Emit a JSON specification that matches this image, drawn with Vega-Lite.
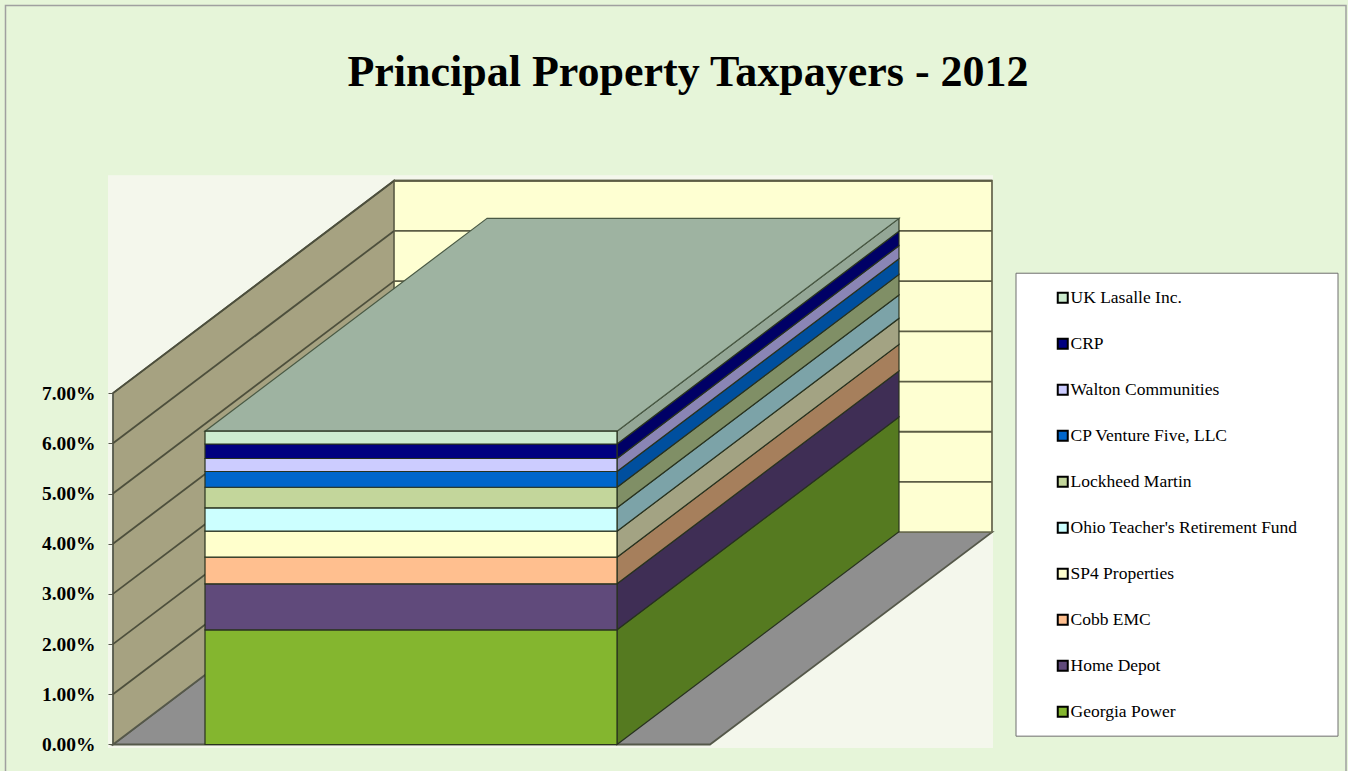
{
"$schema":"https://vega.github.io/schema/vega-lite/v6.json",
"width":1348,"height":771,"padding":0,"autosize":"none",
"background":"#e6f5d9",
"title":{"text":"Principal Property Taxpayers - 2012","font":"Liberation Serif","fontWeight":"bold","fontSize":44,"color":"#000000","anchor":"middle","frame":"group","offset":-130,"dx":14,"baseline":"alphabetic"},
"datasets":{
"shares":[
{"company":"Georgia Power","share":0.02285},
{"company":"Home Depot","share":0.00916},
{"company":"Cobb EMC","share":0.0053},
{"company":"SP4 Properties","share":0.00518},
{"company":"Ohio Teacher's Retirement Fund","share":0.00466},
{"company":"Lockheed Martin","share":0.0041},
{"company":"CP Venture Five, LLC","share":0.00313},
{"company":"Walton Communities","share":0.00259},
{"company":"CRP","share":0.00289},
{"company":"UK Lasalle Inc.","share":0.00255}
],
"ticks":[{"tick":0.01},{"tick":0.02},{"tick":0.03},{"tick":0.04},{"tick":0.05},{"tick":0.06},{"tick":0.07}],
"depth":[{"depth":0},{"depth":1}]
},
"config":{"view":{"stroke":null},"axis":{"grid":false}},
"encoding":{
"x":{"field":"px","type":"quantitative","axis":null,"scale":{"domain":[0,1348],"range":[0,1348],"nice":false,"zero":false}},
"y":{"field":"py","type":"quantitative","scale":{"domain":[-0.005279,0.148307],"range":[771,0],"nice":false,"zero":false},
 "axis":{"orient":"left","offset":-113,"zindex":1,"values":[0,0.01,0.02,0.03,0.04,0.05,0.06,0.07],"format":".2%","domain":false,"grid":false,"ticks":true,"tickSize":5,"tickColor":"#55584a","tickWidth":1,"labelPadding":13,"labelFont":"Liberation Serif","labelFontWeight":"bold","labelFontSize":19.5,"labelColor":"#000000","title":null}}
},
"layer":[
{"data":{"values":[{"px":5.5,"px2":1346,"py":0.1472,"py2":-0.0065}]},
 "mark":{"type":"rect","fill":"#e6f5d9","stroke":"#a0a0a0","strokeWidth":1.5},
 "encoding":{"x2":{"field":"px2"},"y2":{"field":"py2"}}},
{"data":{"values":[{"px":108,"px2":993,"py":-0.00072,"py2":0.1134}]},
 "mark":{"type":"rect","fill":"#f4f7ec"},
 "encoding":{"x2":{"field":"px2"},"y2":{"field":"py2"}}},
{"data":{"name":"depth"},
 "transform":[{"calculate":"0.0423*datum.depth","as":"py"},{"calculate":"113+281*datum.depth","as":"px"},{"calculate":"710+282*datum.depth","as":"px2"}],
 "mark":{"type":"area","orient":"horizontal","fill":"#8f8f8f","stroke":"#55584a","strokeWidth":1.8},
 "encoding":{"x2":{"field":"px2"}}},
{"data":{"name":"depth"},
 "transform":[{"calculate":"0.0423*datum.depth","as":"py"},{"calculate":"0.07+0.0423*datum.depth","as":"py2"},{"calculate":"113+281*datum.depth","as":"px"}],
 "mark":{"type":"area","orient":"vertical","fill":"#a6a281","stroke":"#55584a","strokeWidth":1.8},
 "encoding":{"y2":{"field":"py2"}}},
{"data":{"values":[{"px":394,"px2":992,"py":0.0423,"py2":0.1123}]},
 "mark":{"type":"rect","fill":"#feffd2","stroke":"#6a6b52","strokeWidth":1.8},
 "encoding":{"x2":{"field":"px2"},"y2":{"field":"py2"}}},
{"data":{"name":"ticks"},
 "transform":[{"calculate":"datum.tick","as":"py"},{"calculate":"datum.tick+0.0423","as":"py2"},{"calculate":"113","as":"px"},{"calculate":"394","as":"px2"}],
 "mark":{"type":"rule","stroke":"#4d4f3c","strokeWidth":1.8},
 "encoding":{"x2":{"field":"px2"},"y2":{"field":"py2"}}},
{"data":{"name":"ticks"},
 "transform":[{"calculate":"datum.tick+0.0423","as":"py"},{"calculate":"394","as":"px"},{"calculate":"992","as":"px2"}],
 "mark":{"type":"rule","stroke":"#5c5d45","strokeWidth":1.8},
 "encoding":{"x2":{"field":"px2"}}},
{"data":{"name":"shares"},
 "transform":[{"stack":"share","groupby":[],"as":["y0","y1"]},{"calculate":"[0,1]","as":"depth"},{"flatten":["depth"]},
  {"calculate":"617+282*datum.depth","as":"px"},{"calculate":"datum.y1+0.0424*datum.depth","as":"py"},{"calculate":"datum.y0+0.0424*datum.depth","as":"py2"}],
 "mark":{"type":"area","orient":"vertical","stroke":"#28321f","strokeWidth":1.2},
 "encoding":{"y2":{"field":"py2"},"fill":{"field":"company","type":"nominal","legend":null,"scale":{
  "domain":["UK Lasalle Inc.","CRP","Walton Communities","CP Venture Five, LLC","Lockheed Martin","Ohio Teacher's Retirement Fund","SP4 Properties","Cobb EMC","Home Depot","Georgia Power"],
  "range":["#94a796","#000066","#8a85b5","#004f9e","#808f66","#7ca3a8","#a3a383","#a67f5c","#3f2e55","#557a20"]}}}},
{"data":{"name":"shares"},
 "transform":[{"stack":"share","groupby":[],"as":["y0","y1"]},{"filter":"datum.company==='UK Lasalle Inc.'"},{"calculate":"[0,1]","as":"depth"},{"flatten":["depth"]},
  {"calculate":"205+282*datum.depth","as":"px"},{"calculate":"617+282*datum.depth","as":"px2"},{"calculate":"datum.y1+0.0424*datum.depth","as":"py"}],
 "mark":{"type":"area","orient":"horizontal","fill":"#9eb3a1","stroke":"#4a5a45","strokeWidth":1.2},
 "encoding":{"x2":{"field":"px2"}}},
{"data":{"values":[{"px":1016,"px2":1338,"py":0.00166,"py2":0.09388}]},
 "mark":{"type":"rect","fill":"#ffffff","stroke":"#6e6e6e","strokeWidth":1},
 "encoding":{"x2":{"field":"px2"},"y2":{"field":"py2"}}},
{"data":{"name":"shares"},
 "transform":[{"stack":"share","groupby":[],"as":["py2","py"]},{"calculate":"205","as":"px"},{"calculate":"617","as":"px2"}],
 "mark":{"type":"rect","stroke":"#28321f","strokeWidth":1.2},
 "encoding":{"x2":{"field":"px2"},"y2":{"field":"py2"},"fill":{"field":"company","type":"nominal","scale":{
  "domain":["UK Lasalle Inc.","CRP","Walton Communities","CP Venture Five, LLC","Lockheed Martin","Ohio Teacher's Retirement Fund","SP4 Properties","Cobb EMC","Home Depot","Georgia Power"],
  "range":["#cdeccf","#000080","#ccccff","#0066cc","#c3d69b","#ccffff","#ffffcc","#ffbf8f","#604a7b","#84b62f"]},
  "legend":{"title":null,"orient":"none","legendX":1054,"legendY":289,"symbolType":"square","symbolSize":100,"symbolStrokeWidth":2,"symbolStrokeColor":"#000000","symbolOpacity":1,"rowPadding":27,"labelFont":"Liberation Serif","labelFontSize":17.5,"labelColor":"#000000","labelOffset":-1,"labelLimit":300,
   "encode":{"symbols":{"update":{"stroke":{"value":"#000000"},"strokeWidth":{"value":2}}}}}}}}
],
"resolve":{"scale":{"fill":"independent"}}
}
